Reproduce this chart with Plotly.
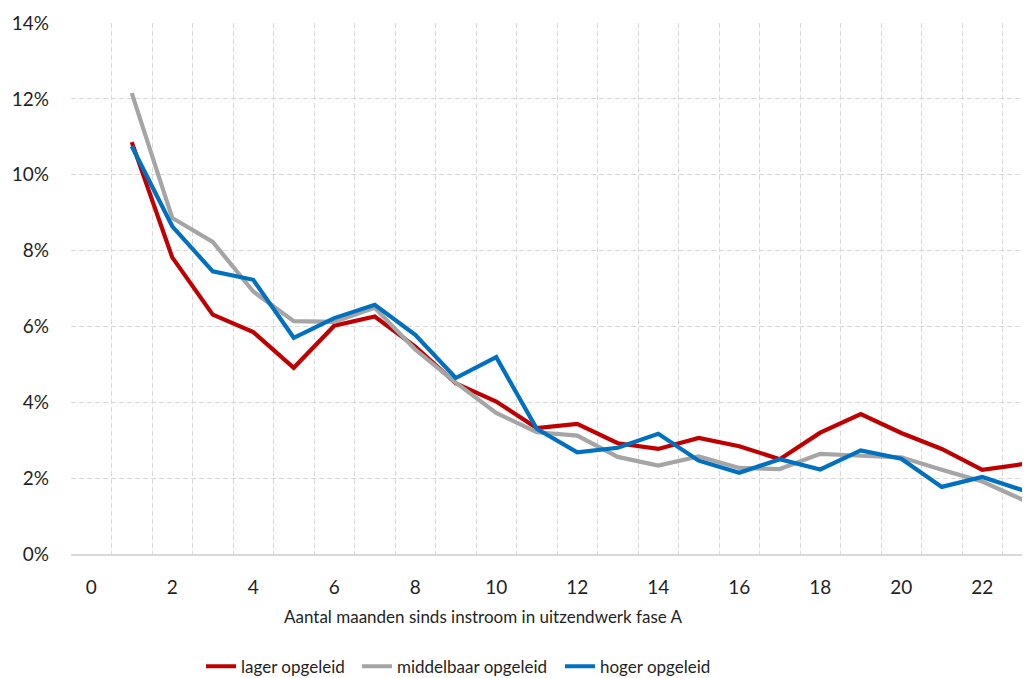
import plotly.graph_objects as go

months = list(range(1, 24))
lager = [10.86, 7.82, 6.31, 5.85, 4.91, 6.02, 6.26, 5.47, 4.50, 4.02, 3.32, 3.43, 2.92, 2.77,
         3.06, 2.84, 2.50, 3.20, 3.69, 3.19, 2.77, 2.22, 2.37]
middelbaar = [12.15, 8.86, 8.23, 6.92, 6.14, 6.12, 6.49, 5.39, 4.52, 3.72, 3.21, 3.12, 2.56, 2.33,
              2.57, 2.27, 2.24, 2.64, 2.59, 2.55, 2.22, 1.91, 1.43]
hoger = [10.75, 8.64, 7.45, 7.23, 5.70, 6.22, 6.57, 5.78, 4.64, 5.19, 3.30, 2.68, 2.80, 3.17,
         2.46, 2.14, 2.50, 2.23, 2.73, 2.51, 1.77, 2.03, 1.68]
series_names = ["lager opgeleid", "middelbaar opgeleid", "hoger opgeleid"]
series_colors = ["#C00000", "#A5A5A5", "#0070C0"]
x_ticks = list(range(0, 23, 2))
x_title = "Aantal maanden sinds instroom in uitzendwerk fase A"

FONT = "Lato"
TXT = "#1F1F1F"
GRID = "#D9D9D9"

# the page body adds an 8px offset, so the figure is 8px smaller and shifted
OFF = 8
W, H = 1030 - OFF, 678 - OFF
ml, mr = 63, 0
plot_top = 23.3 - OFF
plot_bottom = 554.3 - OFF
mt = plot_top
mb = H - plot_bottom
pw = W - ml - mr
ph = H - mt - mb
x0 = -0.5
x1 = x0 + pw / 40.5

legend_ids = ["legend", "legend2", "legend3"]
legend_text_x = [241, 397, 600]

fig = go.Figure()
for name, vals, col, lid in zip(series_names, [lager, middelbaar, hoger], series_colors, legend_ids):
    fig.add_trace(go.Scatter(
        x=months, y=[v / 100 for v in vals], mode="lines", name=name,
        line=dict(color=col, width=4.2), hoverinfo="x+y", legend=lid,
    ))

legend_layout = {}
for lid, tx in zip(legend_ids, legend_text_x):
    legend_layout[lid] = dict(
        orientation="h", xref="paper", yref="paper",
        x=(tx - OFF - 40 - ml) / pw, xanchor="left",
        y=(plot_bottom - (667 - OFF)) / ph, yanchor="middle",
        font=dict(family=FONT, size=17, color=TXT),
        itemwidth=30, bgcolor="rgba(0,0,0,0)",
    )

fig.update_layout(
    width=W, height=H,
    margin=dict(l=ml, r=mr, t=mt, b=mb, pad=0, autoexpand=False),
    paper_bgcolor="white", plot_bgcolor="white",
    font=dict(family=FONT, size=19, color=TXT),
    showlegend=True,
    xaxis=dict(
        range=[x0, x1], tickmode="array", tickvals=x_ticks,
        ticktext=[str(t) for t in x_ticks],
        showgrid=False, zeroline=False, automargin=False,
        showline=True, linecolor=GRID, linewidth=1.5,
        ticks="outside", ticklen=15, tickcolor="rgba(0,0,0,0)",
        tickfont=dict(family=FONT, size=19, color=TXT),
        minor=dict(tick0=0.5, dtick=1, showgrid=True, gridcolor=GRID,
                   griddash="5px,3px", gridwidth=1, ticks=""),
    ),
    yaxis=dict(
        range=[0, 0.14], dtick=0.02, tick0=0, tickformat=".0%",
        showgrid=True, gridcolor=GRID, griddash="5px,3px", gridwidth=1,
        zeroline=False, showline=False, ticks="", ticklabelstandoff=21,
        automargin=False,
        tickfont=dict(family=FONT, size=19, color=TXT),
    ),
    annotations=[dict(
        text=x_title, xref="paper", yref="paper",
        x=(483 - OFF - ml) / pw, y=(plot_bottom - (617 - OFF)) / ph,
        xanchor="center", yanchor="middle", showarrow=False,
        font=dict(family=FONT, size=17, color=TXT),
    )],
    **legend_layout,
)

fig.write_html("out.html")
